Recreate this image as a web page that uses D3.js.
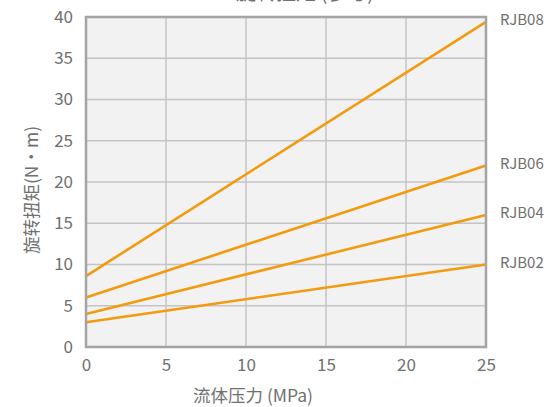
<!DOCTYPE html>
<html>
<head>
<meta charset="utf-8">
<script src="https://cdn.jsdelivr.net/npm/d3@7"></script>
<style>
  body { margin: 0; background: #fff; }
  svg { font-family: "Noto Sans CJK SC", "Noto Sans", sans-serif; }
</style>
</head>
<body>
<svg width="547" height="407"></svg>
<script>
// data
let pressure = [0, 25]
let seriesNames = ['RJB08', 'RJB06', 'RJB04', 'RJB02']
let rjb08 = [8.6, 39.4]
let rjb06 = [6.0, 22.0]
let rjb04 = [4.0, 16.0]
let rjb02 = [3.0, 10.0]
let xTicks = [0, 5, 10, 15, 20, 25]
let yTicks = [0, 5, 10, 15, 20, 25, 30, 35, 40]

let series = [rjb08, rjb06, rjb04, rjb02]

let svg = d3.select('svg')
let plotLeft = 86, plotRight = 486, plotTop = 17, plotBottom = 347
let textColor = '#707070'

let x = d3.scaleLinear().domain([0, 25]).range([plotLeft, plotRight])
let y = d3.scaleLinear().domain([0, 40]).range([plotBottom, plotTop])

// title, mostly cut off at the top (as in the reference)
svg.append('text')
   .attr('x', 305).attr('y', 0)
   .attr('text-anchor', 'middle')
   .attr('font-size', 20)
   .attr('fill', textColor)
   .text('旋转扭矩 (参考)')

svg.append('rect')
   .attr('x', plotLeft).attr('y', plotTop)
   .attr('width', plotRight - plotLeft).attr('height', plotBottom - plotTop)
   .attr('fill', '#f1f2f1')

// grid
svg.append('g')
   .selectAll('line')
   .data(xTicks.slice(1, -1))
   .enter().append('line')
   .attr('x1', d => x(d)).attr('x2', d => x(d))
   .attr('y1', plotTop).attr('y2', plotBottom)
   .attr('stroke', '#c3c4c3').attr('stroke-width', 1.5)

svg.append('g')
   .selectAll('line')
   .data(yTicks.slice(1, -1))
   .enter().append('line')
   .attr('x1', plotLeft).attr('x2', plotRight)
   .attr('y1', d => y(d)).attr('y2', d => y(d))
   .attr('stroke', '#c3c4c3').attr('stroke-width', 1.5)

// lines
let line = d3.line()
             .x((d, i) => x(pressure[i]))
             .y(d => y(d))

svg.append('g')
   .selectAll('path')
   .data(series)
   .enter().append('path')
   .attr('d', d => line(d))
   .attr('fill', 'none')
   .attr('stroke', '#f39a0f')
   .attr('stroke-width', 2.6)

// border
svg.append('rect')
   .attr('x', plotLeft).attr('y', plotTop)
   .attr('width', plotRight - plotLeft).attr('height', plotBottom - plotTop)
   .attr('fill', 'none')
   .attr('stroke', '#a3a4a3').attr('stroke-width', 2.5)

// axes
let xAxis = d3.axisBottom(x).tickValues(xTicks).tickSize(0).tickPadding(12)
let yAxis = d3.axisLeft(y).tickValues(yTicks).tickSize(0).tickPadding(13)

let gx = svg.append('g').attr('transform', 'translate(0,' + plotBottom + ')').call(xAxis)
let gy = svg.append('g').attr('transform', 'translate(' + plotLeft + ',0)').call(yAxis)
for (let g of [gx, gy]) {
  g.select('.domain').remove()
  g.selectAll('text')
   .attr('font-family', '"Noto Sans CJK SC", "Noto Sans", sans-serif')
   .attr('font-size', 17)
   .attr('fill', textColor)
}
gx.selectAll('text').attr('dy', '0.71em')

// series labels, next to the line ends
svg.append('g')
   .selectAll('text')
   .data(series)
   .enter().append('text')
   .attr('x', 500)
   .attr('y', d => y(d[1]) - 2)
   .attr('dy', '0.35em')
   .attr('font-size', 15)
   .attr('fill', textColor)
   .text((d, i) => seriesNames[i])

// axis titles
svg.append('text')
   .attr('x', 253).attr('y', 402)
   .attr('text-anchor', 'middle')
   .attr('font-size', 17.5)
   .attr('fill', textColor)
   .text('流体压力 (MPa)')

svg.append('text')
   .attr('transform', 'translate(38,190) rotate(-90)')
   .attr('text-anchor', 'middle')
   .attr('font-size', 17.5)
   .attr('fill', textColor)
   .text('旋转扭矩(N·m)')
</script>
</body>
</html>
